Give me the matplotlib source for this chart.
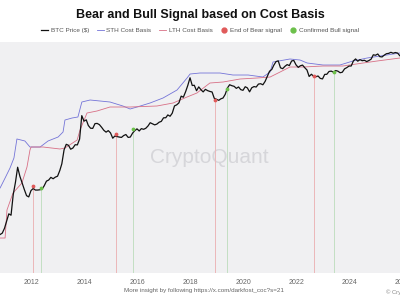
import matplotlib
matplotlib.use("Agg")
import matplotlib.pyplot as plt
import matplotlib.dates as mdates
from matplotlib.lines import Line2D
import pandas as pd

# BTC monthly price ($), Oct 2010 -> Nov 2025
btc_price = [
    0.19, 0.21, 0.30,
    0.52, 0.86, 0.78, 3.5, 8.7, 26, 13.4, 8.2, 5.1, 3.25, 2.97, 4.72,
    5.5, 4.9, 4.9, 5.0, 5.2, 6.7, 9.4, 10.2, 12.4, 11.2, 12.6, 13.5,
    20.4, 33.4, 93, 139, 129, 97, 106, 135, 133, 204, 1130, 755,
    830, 550, 450, 445, 630, 640, 585, 480, 387, 338, 378, 320,
    217, 254, 244, 236, 230, 263, 284, 230, 236, 314, 377, 430,
    368, 437, 416, 448, 531, 673, 624, 575, 609, 698, 742, 963,
    970, 1190, 1080, 1350, 2300, 2480, 2875, 4700, 4340, 6470, 10230, 18000,
    10220, 10400, 6970, 9250, 7500, 6400, 7730, 7030, 6630, 6370, 4020, 3740,
    3460, 3850, 4100, 5350, 8570, 10820, 10080, 9630, 8300, 9200, 7570, 7190,
    9350, 8600, 6440, 8660, 9460, 9140, 11350, 11660, 10780, 13800, 19700, 29000,
    33100, 45200, 58800, 62000, 37300, 35000, 41500, 47100, 43800, 61300, 64000, 46300,
    38500, 43200, 45500, 37700, 31800, 19800, 23300, 20000, 19400, 20500, 17200, 16550,
    23100, 23150, 28500, 29300, 27200, 30500, 29200, 26000, 27000, 34500, 37700, 42300,
    42600, 61200, 71300, 60600, 67500, 62700, 64600, 59000, 63300, 70200, 96400, 93400,
    102400, 84400, 82500, 94200, 104600, 107100, 115700, 108200, 114000, 109500, 90500,
]
btc_dates = pd.date_range("2010-10-31", periods=len(btc_price), freq="ME")

sth_dates = ["2010-10-31", "2011-01-08", "2011-03-17", "2011-05-10", "2011-06-20",
             "2011-10-08", "2011-12-17", "2012-05-05", "2012-08-22", "2013-01-08",
             "2013-03-17", "2013-04-12", "2013-07-20", "2013-10-08", "2013-12-01",
             "2014-03-25", "2014-12-24", "2015-06-20", "2015-09-27", "2016-01-01",
             "2016-06-28", "2016-12-24", "2017-07-05", "2017-11-20", "2018-01-01",
             "2018-05-18", "2019-02-17", "2019-08-15", "2020-03-10", "2020-10-01",
             "2021-01-08", "2021-02-17", "2021-10-08", "2022-02-24", "2022-06-03",
             "2023-01-08", "2023-08-28", "2024-02-24", "2024-09-06", "2025-03-04",
             "2025-12-01"]
sth_cost = [5.7, 11.8, 24.6, 51.1, 205,
            177, 114, 114, 177, 237,
            342, 821, 951, 1023, 3060,
            3543, 3060, 2285, 1835, 2124,
            2846, 4100, 7360, 17690, 23700,
            25500, 25500, 22030, 22030, 19030,
            27440, 56980, 70950, 65950, 52960,
            45760, 45760, 61300, 76320, 88350,
            110000]

lth_dates = ["2010-10-31", "2011-01-08", "2011-02-03", "2011-04-27", "2011-08-28",
             "2011-11-06", "2011-12-17", "2012-01-01", "2012-06-14", "2013-02-03",
             "2013-04-12", "2013-09-27", "2013-11-06", "2014-02-10", "2014-06-28",
             "2014-12-24", "2015-09-27", "2016-10-01", "2017-05-12", "2017-11-20",
             "2018-04-05", "2018-10-01", "2019-04-01", "2019-11-20", "2020-07-12",
             "2021-01-08", "2021-05-26", "2021-10-08", "2022-04-05", "2023-01-08",
             "2023-10-08", "2024-07-12", "2025-01-22", "2025-12-01"]
lth_cost = [0.147, 0.147, 1.14, 3.95, 8.21,
            26.5, 91.6, 114, 114, 98.6,
            106, 190, 395, 1369, 1586,
            2124, 2124, 2285, 2846, 4413,
            5910, 12270, 13210, 16440, 17690,
            19030, 27440, 39540, 39540, 42540,
            42540, 52960, 61300, 76320]

bear_dates = ["2012-01-30", "2015-03-17", "2018-12-10", "2022-09-05"]
bear_price = [6.5, 290, 3540, 20400]
bull_dates = ["2012-05-18", "2015-11-06", "2019-05-26", "2023-06-07"]
bull_price = [5.7, 420, 8000, 27400]

plt.rcParams["font.family"] = ["Liberation Sans", "DejaVu Sans"]

fig = plt.figure(figsize=(4, 3), dpi=100)
ax = fig.add_axes([-0.025, 0.09, 1.075, 0.77])
ax.set_facecolor("#f0f0f2")
for s in ax.spines.values():
    s.set_visible(False)

ax.vlines(pd.to_datetime(bear_dates), 1e-3, bear_price, color="#ebb7b9", lw=0.7)
ax.vlines(pd.to_datetime(bull_dates), 1e-3, bull_price, color="#c3dfc3", lw=0.7)
ax.plot(pd.to_datetime(sth_dates), sth_cost, color="#7474d8", lw=0.6)
ax.plot(pd.to_datetime(lth_dates), lth_cost, color="#d87086", lw=0.6)
ax.plot(btc_dates, btc_price, color="#111111", lw=0.9)
ax.scatter(pd.to_datetime(bear_dates), bear_price, s=3, color="#e05a5a", zorder=5)
ax.scatter(pd.to_datetime(bull_dates), bull_price, s=3, color="#6cc04a", zorder=5)

ax.set_yscale("log")
ax.set_ylim(0.0114, 246000)
ax.set_xlim(pd.Timestamp("2010-06-14"), pd.Timestamp("2026-09-05"))
ax.xaxis.set_major_locator(mdates.YearLocator(2))
ax.xaxis.set_major_formatter(mdates.DateFormatter("%Y"))
ax.tick_params(axis="x", length=0, labelsize=5, labelcolor="#666666", pad=4)
ax.set_yticks([])
ax.yaxis.set_minor_locator(matplotlib.ticker.NullLocator())

ax.text(0.51, 0.5, "CryptoQuant", transform=ax.transAxes, ha="center", va="center",
        fontsize=15, color="#d6d6da", zorder=0)

fig.text(0.5, 0.95, "Bear and Bull Signal based on Cost Basis", ha="center", va="center",
         fontsize=9, fontweight="bold", color="#111111")

handles = [
    Line2D([], [], color="#111111", lw=0.9),
    Line2D([], [], color="#7474d8", lw=0.6),
    Line2D([], [], color="#d87086", lw=0.6),
    Line2D([], [], color="#e05a5a", marker="o", ls="none", markersize=3.5),
    Line2D([], [], color="#6cc04a", marker="o", ls="none", markersize=3.5),
]
labels = ["BTC Price ($)", "STH Cost Basis", "LTH Cost Basis", "End of Bear signal",
          "Confirmed Bull signal"]
fig.legend(handles, labels, loc="center", bbox_to_anchor=(0.5, 0.9), ncol=5,
           frameon=False, fontsize=4.6, handlelength=1.1, handletextpad=0.4,
           columnspacing=1.2, labelcolor="#555555")

fig.text(0.51, 0.033, "More insight by following https://x.com/darkfost_coc?s=21",
         ha="center", va="center", fontsize=4.5, color="#666666")
fig.text(0.965, 0.025, "© CryptoQuant", ha="left", va="center", fontsize=4.2, color="#888888")

fig.savefig("out.png", dpi=100)
